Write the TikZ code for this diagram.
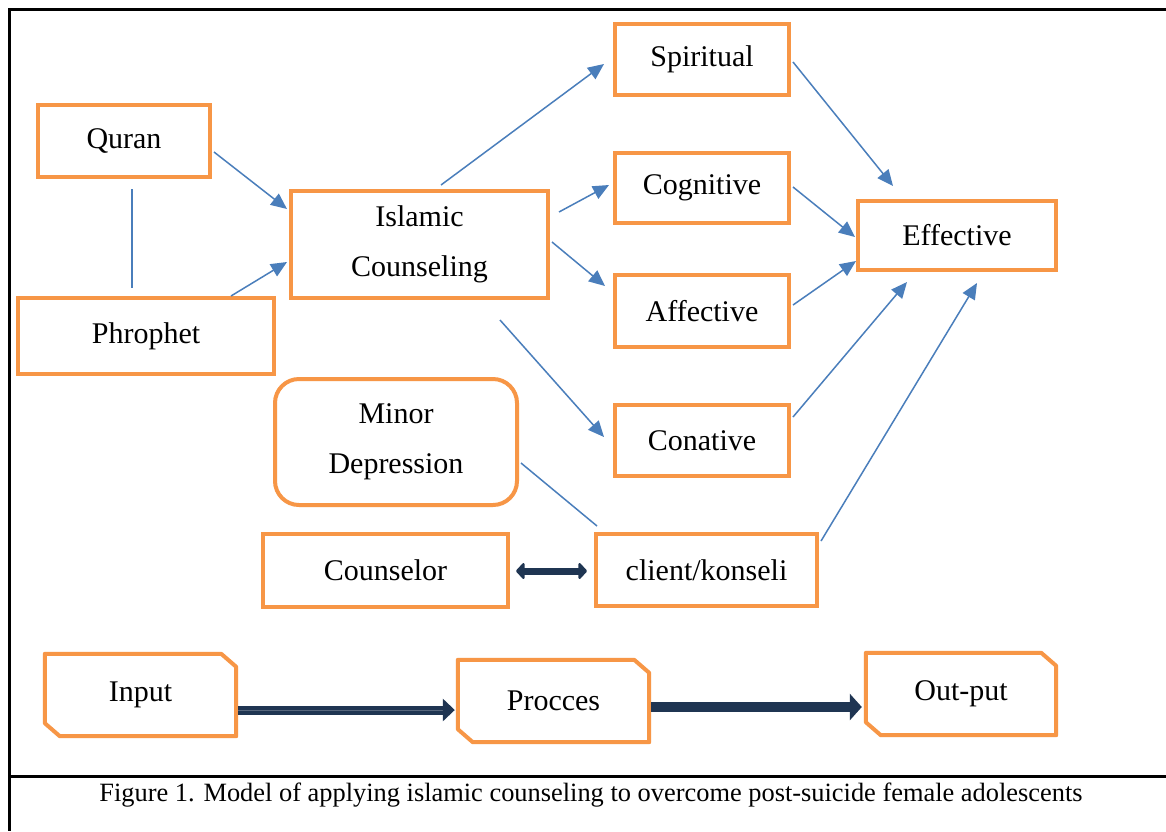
\documentclass[tikz,border=0pt]{standalone}
\usepackage{fontspec}
\setmainfont{Liberation Serif}
\usetikzlibrary{arrows.meta,calc}
\definecolor{boxor}{HTML}{F79646}
\definecolor{lnblue}{HTML}{4A7EBB}
\definecolor{navy}{HTML}{1F3552}
\begin{document}
\begin{tikzpicture}[x=1pt,y=-1pt,
  txt/.style={font=\fontsize{30}{50}\selectfont, align=center, inner sep=0pt},
  box/.style={txt, draw=boxor, line width=4pt, fill=white},
  rbox/.style={box, rounded corners=24pt},
  snipbox/.style={txt},
  sz/.style 2 args={minimum width=#1pt, minimum height=#2pt},
  blink/.style={draw=lnblue, line width=1.5pt, -{Triangle[length=16pt,width=14pt]}},
  bline/.style={draw=lnblue, line width=1.5pt},
  frame/.style={draw=black, line width=3pt},
  snipline/.style={draw=boxor, line width=4pt, line join=round}
]
\useasboundingbox (0,0) rectangle (1166,831);
\fill[white] (0,0) rectangle (1166,831);
% frame
\coordinate (ftl) at (9,9);
\coordinate (ftr) at (1166,9);
\coordinate (fbl) at (9,831);
\coordinate (fml) at (9,776);
\coordinate (fmr) at (1166,776);
\draw[frame] (ftr) -- (ftl) -- (fbl);
\draw[frame] (fml) -- (fmr);

% nodes
\node[box, sz={174}{71}] (spi) at (702,59.5) {Spiritual};
\node[box, sz={172}{72}] (qur) at (124,141) {Quran};
\node[box, sz={257}{107}] (isl) at (419.5,244.5) {Islamic\\Counseling};
\node[box, sz={174}{70}] (cog) at (702,188) {Cognitive};
\node[box, sz={198}{69}] (eff) at (957,235.5) {Effective};
\node[box, sz={174}{72}] (aff) at (702,311) {Affective};
\node[box, sz={256}{76}] (phr) at (146,336) {Phrophet};
\node[rbox, sz={242}{126}] (min) at (396,442) {Minor\\Depression};
\node[box, sz={174}{71}] (con) at (702,440.5) {Conative};
\node[box, sz={245}{73}] (cou) at (385.5,570.5) {Counselor};
\node[box, sz={221}{72}] (cli) at (706.5,570) {client/konseli};
\node[snipbox, sz={191}{82}] (inp) at (140.5,695) {Input};
\node[snipbox, sz={191}{82}] (pro) at (553.5,701) {Procces};
\node[snipbox, sz={190}{82}] (out) at (961,694) {Out-put};
\foreach \n in {inp,pro,out}{
  \draw[snipline] (\n.north west) -- ($(\n.north east)+(-15,0)$) -- ($(\n.north east)+(0,13)$)
    -- (\n.south east) -- ($(\n.south west)+(15,0)$) -- ($(\n.south west)+(0,-13)$) -- cycle;
}

% connectors
\draw[blink] ($(qur.east)+(2,11)$) -- ($(isl.west)+(-2,-35.5)$);
\draw[blink] ($(phr.north)+(85,0)$) -- ($(isl.west)+(-2,17.5)$);
\draw[bline] ($(qur.south)+(8,10)$) -- ($(phr.north)+(-14,-8)$);
\draw[blink] ($(isl.north)+(21.5,-4)$) -- ($(spi.west)+(-9,4.5)$);
\draw[blink] ($(isl.east)+(9,-32.5)$) -- ($(cog.west)+(-4,-3)$);
\draw[blink] ($(isl.east)+(2,-2.5)$) -- ($(aff.west)+(-8,-25)$);
\draw[blink] ($(isl.south)+(80.5,20)$) -- ($(con.west)+(-9,-3.5)$);
\draw[blink] ($(spi.east)+(2,2.5)$) -- ($(eff.north)+(-64,-13)$);
\draw[blink] ($(cog.east)+(2,-1)$) -- ($(eff.west)+(-1,1.5)$);
\draw[blink] ($(aff.east)+(2,-6)$) -- ($(eff.west)+(0,25.5)$);
\draw[blink] ($(con.east)+(2,-23.5)$) -- ($(eff.south)+(-50,10)$);
\draw[blink] ($(cli.east)+(2,-29)$) -- ($(eff.south)+(20,11)$);
\draw[bline] ($(min.east)+(2,21)$) -- ($(cli.north)+(-109.5,-6)$);
\draw[navy, line width=7pt, {Triangle[length=9pt,width=19pt,round]}-{Triangle[length=9pt,width=19pt,round]}]
  ($(cou.east)+(6,0.5)$) -- ($(cli.west)+(-7,1)$);
\draw[navy, line width=4pt, double=navy!75, double distance=1pt, -{Triangle[length=12pt,width=22pt]}]
  ($(inp.east)+(2,15)$) -- ($(pro.west)+(-3,9)$);
\draw[navy, line width=10pt, -{Triangle[length=12pt,width=26pt]}]
  ($(pro.east)+(2,6)$) -- ($(out.west)+(-4,13)$);

% caption
\node[font=\fontsize{26.4}{30}\selectfont, inner sep=0pt] (cap) at (591,795)
  {Figure 1. Model of applying islamic counseling to overcome post-suicide female adolescents};
\end{tikzpicture}
\end{document}
